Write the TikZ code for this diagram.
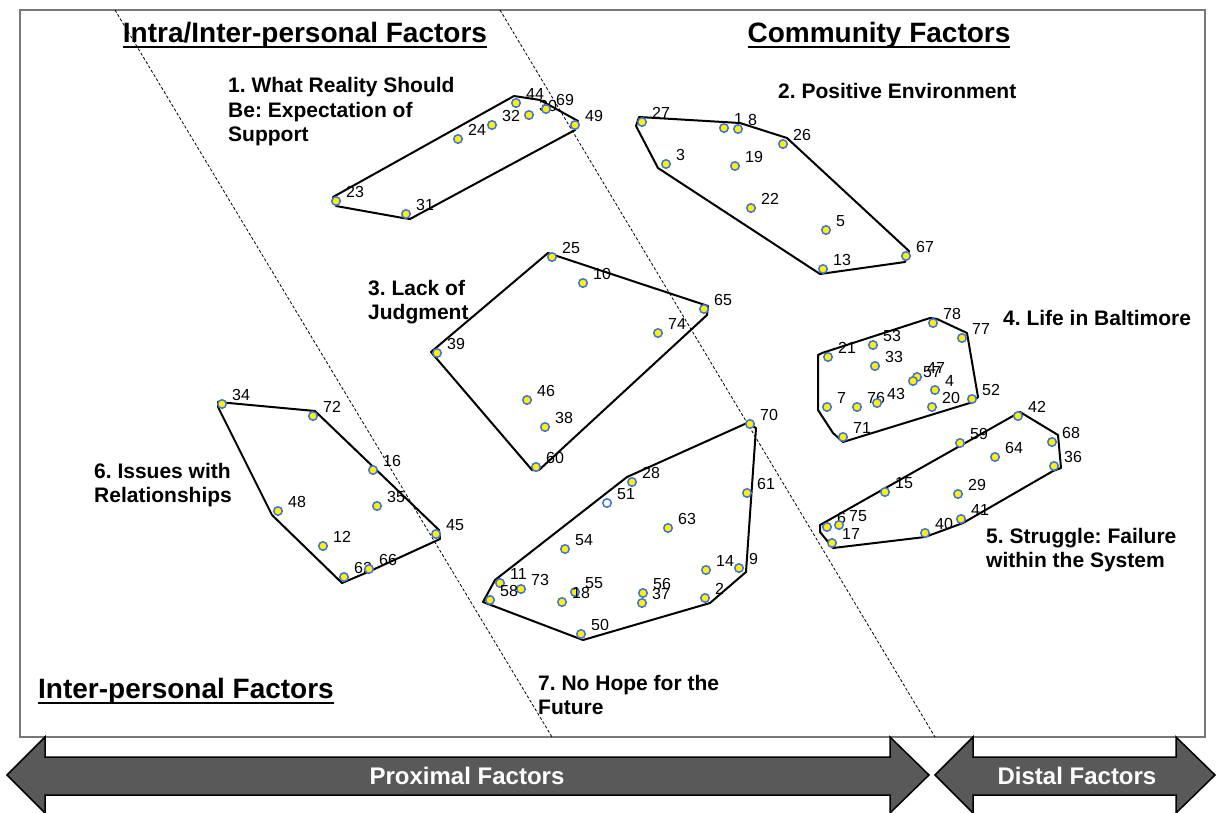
\documentclass[tikz,border=0pt]{standalone}
\usepackage{fontspec}
\setmainfont{Liberation Sans}
\frenchspacing
\definecolor{dotblue}{RGB}{68,114,220}
\definecolor{arrowgray}{RGB}{89,89,89}
\definecolor{framegray}{RGB}{120,120,120}
\newcommand{\ulhead}[1]{\setbox0=\hbox{#1}\rlap{\rule[-6pt]{\wd0}{2pt}}\box0}
\newcommand{\dotpt}[4][dot]{\node[#1] (p#2) at (#3,#4) {}; \node[num] (n#2) at ([shift={(10,-9)}]p#2.center) {#2};}
\tikzset{
  dot/.style={circle, draw=dotblue, fill=yellow, line width=1.5pt, minimum size=8.5pt, inner sep=0pt},
  hollowdot/.style={dot, fill=white},
  num/.style={anchor=west, inner sep=0pt, font=\fontsize{16}{18}\selectfont},
  hull/.style={draw=black, line width=2pt, line join=round},
  clab/.style={anchor=west, align=left, inner sep=0pt, font=\bfseries\fontsize{21}{24.5}\selectfont},
  head/.style={anchor=base, inner sep=0pt, font=\bfseries\fontsize{28}{30}\selectfont},
  frame/.style={draw=framegray, line width=1.4pt},
  divider/.style={draw=black, line width=0.8pt, dash pattern=on 3pt off 2pt},
  bigarrow/.style={fill=arrowgray, draw=black, line width=1.5pt, line join=miter},
  arrowtext/.style={text=white, inner sep=0pt, font=\bfseries\fontsize{24}{28}\selectfont}
}
\begin{document}
\begin{tikzpicture}[x=1pt, y=-1pt]
\useasboundingbox (0,0) rectangle (1216,812);
\fill[white] (0,0) rectangle (1216,812);
% frame
\draw[frame] (20,10) rectangle (1205,737);
% dashed dividers
\coordinate (d1t) at (115,10);
\coordinate (d1b) at (552,737);
\coordinate (d2t) at (500,10);
\coordinate (d2b) at (935,737);
\draw[divider] (d1t) -- (d1b);
\draw[divider] (d2t) -- (d2b);
% headers
\node[head] (h1) at (305,42) {\ulhead{Intra/Inter-personal Factors}};
\node[head] (h2) at (879,42) {\ulhead{Community Factors}};
\node[head, anchor=base west] (h3) at (38,698) {\ulhead{Inter-personal Factors}};
% cluster labels
\node[clab] (L1) at (228,112) {1. What Reality Should\\Be: Expectation of\\Support};
\node[clab] (L2) at (778,91) {2. Positive Environment};
\node[clab] (L3) at (368,302) {3. Lack of\\Judgment};
\node[clab] (L4) at (1003,318) {4. Life in Baltimore};
\node[clab] (L5) at (986,550) {5. Struggle: Failure\\within the System};
\node[clab] (L6) at (94,485) {6. Issues with\\Relationships};
\node[clab] (L7) at (538,695) {7. No Hope for the\\Future};
% hulls
\draw[hull] (333,197) -- (514,96) -- (540,100) -- (578,121) -- (575,130) -- (410,219) -- (403,218) -- (336,206) -- cycle;
\draw[hull] (639,117) -- (740,123) -- (787,138) -- (909,251) -- (905,262) -- (820,274) -- (658,168) -- (636,126) -- cycle;
\draw[hull] (548,253) -- (708,306) -- (707,315) -- (539,470) -- (532,470) -- (431,352) -- cycle;
\draw[hull] (822,353) -- (930,318) -- (937,319) -- (967,333) -- (978,397) -- (973,402) -- (843,442) -- (833,433) -- (818,410) -- (818,355) -- cycle;
\draw[hull] (820,525) -- (1020,412) -- (1058,435) -- (1061,468) -- (1053,471) -- (963,523) -- (925,537) -- (833,548) -- (820,532) -- cycle;
\draw[hull] (218,402) -- (315,411) -- (439,530) -- (440,539) -- (368,572) -- (342,583) -- (272,515) -- (218,407) -- cycle;
\draw[hull] (627,477) -- (747,423) -- (756,428) -- (746,572) -- (710,603) -- (583,640) -- (483,602) -- (495,580) -- cycle;
% cluster 1
\dotpt{23}{336}{201}
\dotpt{31}{406}{214}
\dotpt{24}{458}{139}
\dotpt{32}{492}{125}
\dotpt{44}{516}{103}
\dotpt{30}{529}{115}
\dotpt{69}{546}{109}
\dotpt{49}{575}{125}
% cluster 2
\dotpt{27}{642}{122}
\dotpt{1}{724}{128}
\dotpt{8}{738}{129}
\dotpt{26}{783}{144}
\dotpt{3}{666}{164}
\dotpt{19}{735}{166}
\dotpt{22}{751}{208}
\dotpt{5}{826}{230}
\dotpt{13}{823}{269}
\dotpt{67}{906}{256}
% cluster 3
\dotpt{25}{552}{257}
\dotpt{10}{583}{283}
\dotpt{65}{704}{309}
\dotpt{74}{658}{333}
\dotpt{39}{437}{353}
\dotpt{46}{527}{400}
\dotpt{38}{545}{427}
\dotpt{60}{536}{467}
% cluster 4
\dotpt{78}{933}{323}
\dotpt{77}{962}{338}
\dotpt{21}{828}{357}
\dotpt{53}{873}{345}
\dotpt{33}{875}{366}
\dotpt{47}{917}{377}
\dotpt{57}{913}{381}
\dotpt{4}{935}{390}
\dotpt{7}{827}{407}
\dotpt{76}{857}{407}
\dotpt{43}{877}{403}
\dotpt{20}{932}{407}
\dotpt{52}{972}{399}
\dotpt{71}{843}{437}
% cluster 5
\dotpt{42}{1018}{416}
\dotpt{68}{1052}{442}
\dotpt{36}{1054}{466}
\dotpt{59}{960}{443}
\dotpt{64}{995}{457}
\dotpt{15}{885}{492}
\dotpt{29}{958}{494}
\dotpt{41}{961}{519}
\dotpt{40}{925}{533}
\dotpt{6}{827}{527}
\dotpt{75}{839}{525}
\dotpt{17}{832}{543}
% cluster 6
\dotpt{34}{222}{404}
\dotpt{72}{313}{416}
\dotpt{16}{373}{470}
\dotpt{35}{377}{506}
\dotpt{48}{278}{511}
\dotpt{12}{323}{546}
\dotpt{45}{436}{534}
\dotpt{62}{344}{577}
\dotpt{66}{369}{569}
% cluster 7
\dotpt{70}{750}{424}
\dotpt{28}{632}{482}
\dotpt[hollowdot]{51}{607}{503}
\dotpt{61}{747}{493}
\dotpt{63}{668}{528}
\dotpt{54}{565}{549}
\dotpt{14}{706}{570}
\dotpt{9}{739}{568}
\dotpt{11}{500}{583}
\dotpt{73}{521}{589}
\dotpt{58}{490}{600}
\dotpt{55}{575}{592}
\dotpt{18}{562}{602}
\dotpt{56}{643}{593}
\dotpt{37}{642}{603}
\dotpt{2}{705}{598}
\dotpt{50}{581}{634}
% bottom arrows
\draw[bigarrow] (7,775) -- (45,737) -- (45,757) -- (890,757) -- (890,737) -- (929,775) -- (890,813) -- (890,795) -- (45,795) -- (45,813) -- cycle;
\draw[bigarrow] (935,775) -- (973,737) -- (973,757) -- (1176,757) -- (1176,737) -- (1215,775) -- (1176,813) -- (1176,795) -- (973,795) -- (973,813) -- cycle;
\node[arrowtext] (prox) at (467,776) {Proximal Factors};
\node[arrowtext] (dist) at (1077,776) {Distal Factors};
\end{tikzpicture}
\end{document}
